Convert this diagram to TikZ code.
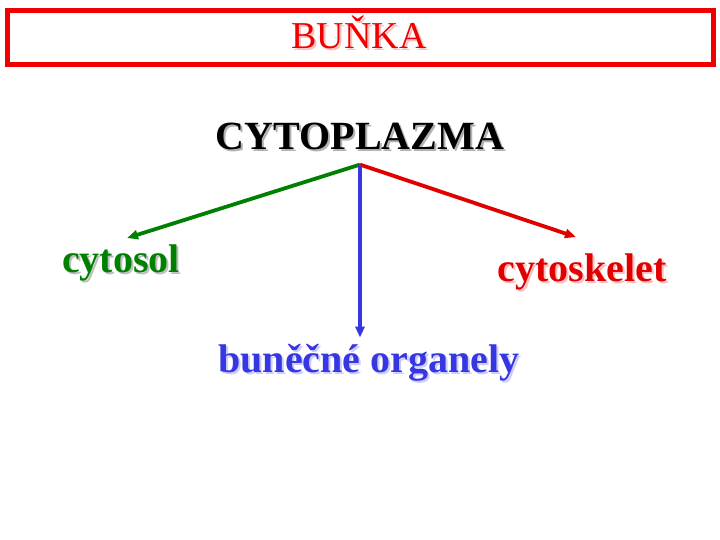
\documentclass[tikz,border=0pt]{standalone}
\usepackage{fontspec}
\setmainfont{Liberation Serif}
\usepackage{tikz}
\usetikzlibrary{arrows.meta,positioning,calc}

\definecolor{boxred}{RGB}{240,0,0}
\definecolor{solgreen}{RGB}{0,128,0}
\definecolor{skelred}{RGB}{225,0,0}
\definecolor{orgblue}{RGB}{55,55,225}

% text with a soft drop shadow
\newcommand{\shadowed}[2]{\makebox[0pt][l]{\hspace{2pt}\raisebox{-2pt}{\textcolor{#1}{#2}}}#2}

\begin{document}
\begin{tikzpicture}[x=1pt,y=1pt,
    big/.style={font=\fontsize{40}{44}\selectfont\bfseries, inner sep=0pt, anchor=base},
    branch/.style={line width=3.8pt, -{Triangle[length=11pt,width=9pt]}}]
\useasboundingbox (0,0) rectangle (720,-540);

% title box
\draw[boxred, line width=5pt] (7,-10.5) rectangle (713,-64.5);
\node[big, boxred, font=\fontsize{38}{42}\selectfont] (bunka) at (359,-49) {\shadowed{red!25}{BUŇKA}};

% root
\node[big] (cyto) at (360,-150) {\shadowed{black!30}{CYTOPLAZMA}};
\coordinate (apex) at ([yshift=-12pt]cyto.south);

% parts
\node[big, solgreen] (cytosol) at (121,-272) {\shadowed{black!25}{cytosol}};
\node[big, skelred] (cytoskelet) at (582,-281) {\shadowed{red!25}{cytoskelet}};
\node[big, orgblue] (organely) at (369,-372) {\shadowed{blue!20}{buněčné organely}};

% branches
\draw[branch, solgreen] (apex) -- ([shift={(6,6)}]cytosol.north);
\draw[branch, skelred] (apex) -- ([shift={(-6,16)}]cytoskelet.north);
\draw[branch, orgblue] (apex) -- ([shift={(-9,6)}]organely.north);
\end{tikzpicture}
\end{document}
